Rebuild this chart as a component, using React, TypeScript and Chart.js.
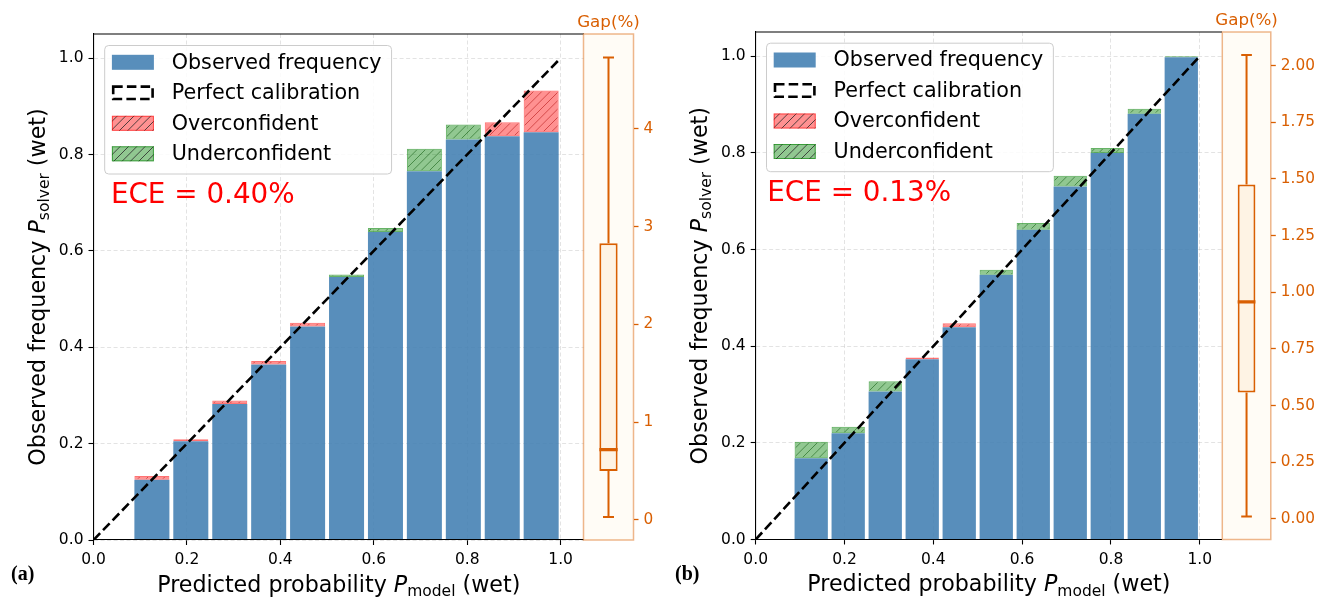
import React, { useEffect, useRef } from "react";
import { Chart, registerables } from "chart.js";

Chart.register(...registerables);

const FONT = "'DejaVu Sans', 'Noto Sans', sans-serif";

// ---------------- data ----------------
const binCenters = [0.0417, 0.125, 0.2083, 0.2917, 0.375, 0.4583, 0.5417, 0.625, 0.7083, 0.7917, 0.875, 0.9583];
const observedA = [0, 0.125, 0.205, 0.282, 0.364, 0.443, 0.5455, 0.639, 0.765, 0.831, 0.838, 0.846];
const gapA = [-0.001, 0.008, 0.004, 0.0076, 0.0077, 0.0077, -0.0055, -0.0084, -0.047, -0.031, 0.029, 0.0865];
const observedB = [0, 0.168, 0.22, 0.306, 0.373, 0.439, 0.5476, 0.6408, 0.7305, 0.7996, 0.881, 0.998];
const gapB = [-0.001, -0.0345, -0.0135, -0.0215, 0.0035, 0.0085, -0.0104, -0.0138, -0.022, -0.0104, -0.0104, -0.002];
// whisker low, Q1, median, Q3, whisker high (Gap %)
const gapBoxA = [0.03, 0.5, 0.72, 2.83, 4.73];
const gapBoxB = [0.011, 0.557, 0.957, 1.475, 2.046];
const calibration = [0, 1];

const mainTicks = [0, 0.2, 0.4, 0.6, 0.8, 1.0];
const mainTickLabels = ["0.0", "0.2", "0.4", "0.6", "0.8", "1.0"];
const gapTicksA = [0, 1, 2, 3, 4];
const gapTickLabelsA = ["0", "1", "2", "3", "4"];
const gapTicksB = [0, 0.25, 0.5, 0.75, 1.0, 1.25, 1.5, 1.75, 2.0];
const gapTickLabelsB = ["0.00", "0.25", "0.50", "0.75", "1.00", "1.25", "1.50", "1.75", "2.00"];

const legendLabels = ["Observed frequency", "Perfect calibration", "Overconfident", "Underconfident"];
const eceLabels = ["ECE = 0.40%", "ECE = 0.13%"];
const panelLabels = ["(a)", "(b)"];
const xTitleWords = ["Predicted probability ", "P", "model", " (wet)"];
const yTitleWords = ["Observed frequency ", "P", "solver", " (wet)"];
const gapTitle = "Gap(%)";

// ---------------- styles ----------------
const BLUE = "rgba(70,130,180,0.9)";
const RED_FILL = "rgba(255,0,0,0.43)";
const RED_EDGE = "rgba(255,0,0,0.55)";
const RED_HATCH = "rgba(170,0,0,0.5)";
const GREEN_FILL = "rgba(0,128,0,0.43)";
const GREEN_EDGE = "rgba(0,128,0,0.6)";
const GREEN_HATCH = "rgba(0,80,0,0.5)";
const GRID = "rgba(176,176,176,0.35)";
const ORANGE = "#d95f02";
const ORANGE_LIGHT = "rgba(217,95,2,0.45)";
const PANEL_FACE = "#fffcf6";
const BOX_FILL = "#fef3e4";
const BOX_HALF = 0.183;
const CAP_HALF = 0.11;

function makeHatch(fill: string, line: string, lw: number) {
  const S = 25;
  const c = document.createElement("canvas");
  c.width = S;
  c.height = S;
  const g = c.getContext("2d")!;
  g.fillStyle = fill;
  g.fillRect(0, 0, S, S);
  g.strokeStyle = line;
  g.lineWidth = lw;
  g.beginPath();
  for (let k = 0; k <= 6; k++) {
    const cc = (k * S) / 3;
    g.moveTo(cc + 2, -2);
    g.lineTo(cc - S - 2, S + 2);
  }
  g.stroke();
  return g.createPattern(c, "repeat")!;
}

function roundRectPath(ctx: CanvasRenderingContext2D, x: number, y: number, w: number, h: number, r: number) {
  ctx.beginPath();
  ctx.moveTo(x + r, y);
  ctx.lineTo(x + w - r, y);
  ctx.arcTo(x + w, y, x + w, y + r, r);
  ctx.lineTo(x + w, y + h - r);
  ctx.arcTo(x + w, y + h, x + w - r, y + h, r);
  ctx.lineTo(x + r, y + h);
  ctx.arcTo(x, y + h, x, y + h - r, r);
  ctx.lineTo(x, y + r);
  ctx.arcTo(x, y, x + r, y, r);
  ctx.closePath();
}

function richText(ctx: CanvasRenderingContext2D, words: string[], cx: number, cy: number, angle: number) {
  const parts = [
    { t: words[0], f: `22.2px ${FONT}`, dy: 0 },
    { t: words[1], f: `italic 22.2px ${FONT}`, dy: 0 },
    { t: words[2], f: `15.5px ${FONT}`, dy: 4.6 },
    { t: words[3], f: `22.2px ${FONT}`, dy: 0 },
  ];
  ctx.save();
  ctx.translate(cx, cy);
  ctx.rotate(angle);
  let total = 0;
  const ws = parts.map((p) => {
    ctx.font = p.f;
    const w = ctx.measureText(p.t).width;
    total += w;
    return w;
  });
  let x = -total / 2;
  ctx.textAlign = "left";
  ctx.textBaseline = "alphabetic";
  ctx.fillStyle = "#000";
  parts.forEach((p, i) => {
    ctx.font = p.f;
    ctx.fillText(p.t, x, p.dy);
    x += ws[i];
  });
  ctx.restore();
}

function drawLegend(ctx: CanvasRenderingContext2D, x: number, y: number, pats: any) {
  const fs = 20.7;
  ctx.save();
  ctx.font = `${fs}px ${FONT}`;
  const textDx = 67.5;
  const maxW = Math.max(...legendLabels.map((t) => ctx.measureText(t).width));
  const w = textDx + maxW + 9.5;
  const h = 128.5;
  roundRectPath(ctx, x + 0.5, y + 0.5, w, h, 4);
  ctx.fillStyle = "rgba(255,255,255,0.85)";
  ctx.fill();
  ctx.strokeStyle = "#cccccc";
  ctx.lineWidth = 1;
  ctx.stroke();
  legendLabels.forEach((label, i) => {
    const rowY = y + 17.3 + i * 30.5;
    const sx = x + 7.7;
    const sy = rowY - 7.5;
    const sw = 42;
    const sh = 15;
    if (i === 0) {
      ctx.fillStyle = BLUE;
      ctx.fillRect(sx, sy, sw, sh);
    } else if (i === 1) {
      ctx.save();
      ctx.setLineDash([9.5, 4.2]);
      ctx.strokeStyle = "#000";
      ctx.lineWidth = 2.6;
      ctx.strokeRect(sx + 1.3, sy + 1.3, sw - 2.6, sh - 2.6);
      ctx.restore();
    } else {
      ctx.fillStyle = i === 2 ? pats.redLegend : pats.greenLegend;
      ctx.fillRect(sx, sy, sw, sh);
      ctx.strokeStyle = i === 2 ? RED_EDGE : GREEN_EDGE;
      ctx.lineWidth = 1;
      ctx.strokeRect(sx + 0.5, sy + 0.5, sw - 1, sh - 1);
    }
    ctx.fillStyle = "#000";
    ctx.font = `${fs}px ${FONT}`;
    ctx.textAlign = "left";
    ctx.textBaseline = "middle";
    ctx.fillText(label, x + textDx, rowY + 1);
  });
  ctx.restore();
}

type Panel = {
  key: string;
  obs: number[];
  gap: number[];
  box: number[];
  gapTicks: number[];
  gapTickLabels: string[];
  gapMin: number;
  gapMax: number;
  ece: string;
  label: string;
  mainLeft: number;
  mainWidth: number;
  yAxisW: number;
  top: number;
  xAxisH: number;
  boxLeft: number;
  boxWidth: number;
  boxPadL: number;
  boxAreaW: number;
  eceDx: number;
  eceY: number;
  legendDx: number;
  legendTop: number;
  labelX: number;
};

const panels: Panel[] = [
  {
    key: "a", obs: observedA, gap: gapA, box: gapBoxA,
    gapTicks: gapTicksA, gapTickLabels: gapTickLabelsA, gapMin: -0.205, gapMax: 4.97,
    ece: eceLabels[0], label: panelLabels[0],
    mainLeft: 0, mainWidth: 584, yAxisW: 93.5, top: 34, xAxisH: 59,
    boxLeft: 553, boxWidth: 130, boxPadL: 30.5, boxAreaW: 50,
    eceDx: 17.4, eceY: 203, legendDx: 10.7, legendTop: 45, labelX: 11,
  },
  {
    key: "b", obs: observedB, gap: gapB, box: gapBoxB,
    gapTicks: gapTicksB, gapTickLabels: gapTickLabelsB, gapMin: -0.091, gapMax: 2.148,
    ece: eceLabels[1], label: panelLabels[1],
    mainLeft: 660, mainWidth: 562, yAxisW: 95.7, top: 32, xAxisH: 59.5,
    boxLeft: 1192, boxWidth: 127, boxPadL: 30.3, boxAreaW: 48.5,
    eceDx: 11.6, eceY: 201, legendDx: 10.3, legendTop: 42.7, labelX: 15,
  },
];

function mainConfig(p: Panel): any {
  const pats = {
    red: makeHatch(RED_FILL, RED_HATCH, 1),
    green: makeHatch(GREEN_FILL, GREEN_HATCH, 1),
    redLegend: makeHatch(RED_FILL, "rgba(40,40,40,0.8)", 1),
    greenLegend: makeHatch(GREEN_FILL, "rgba(40,40,40,0.8)", 1),
  };
  const over: any[] = [];
  const under: any[] = [];
  binCenters.forEach((c, i) => {
    const g = p.gap[i];
    const seg = { x: c, y: [p.obs[i], p.obs[i] + Math.abs(g)] };
    (g > 0 ? over : under).push(seg);
  });
  const decor = {
    id: "decor" + p.key,
    afterDraw(chart: any) {
      const ctx: CanvasRenderingContext2D = chart.ctx;
      const a = chart.chartArea;
      ctx.save();
      ctx.strokeStyle = "#000";
      ctx.lineWidth = 1.1;
      ctx.beginPath();
      ctx.moveTo(a.left, a.top);
      ctx.lineTo(a.right, a.top);
      ctx.stroke();
      drawLegend(ctx, a.left + p.legendDx, p.legendTop, pats);
      ctx.fillStyle = "#ff0000";
      ctx.font = `27.8px ${FONT}`;
      ctx.textAlign = "left";
      ctx.textBaseline = "alphabetic";
      ctx.fillText(p.ece, a.left + p.eceDx, p.eceY);
      richText(ctx, xTitleWords, (a.left + a.right) / 2, a.bottom + 51.5, 0);
      richText(ctx, yTitleWords, a.left - 49, (a.top + a.bottom) / 2, -Math.PI / 2);
      ctx.fillStyle = "#000";
      ctx.font = `bold 20px 'Liberation Serif', serif`;
      ctx.textAlign = "left";
      ctx.textBaseline = "alphabetic";
      ctx.fillText(p.label, p.labelX, 580);
      ctx.restore();
    },
  };
  const tickFont = { family: FONT, size: 15.5 };
  return {
    type: "bar",
    data: {
      datasets: [
        {
          type: "line",
          label: legendLabels[1],
          data: calibration.map((v) => ({ x: v, y: v })),
          borderColor: "#000",
          borderWidth: 2.6,
          borderDash: [9.5, 4.2],
          pointRadius: 0,
          fill: false,
          order: 0,
        },
        {
          label: legendLabels[2],
          data: over,
          backgroundColor: pats.red,
          borderColor: RED_EDGE,
          borderWidth: 1,
          borderSkipped: false,
          grouped: false,
          barPercentage: 0.9,
          categoryPercentage: 1,
          order: 1,
        },
        {
          label: legendLabels[3],
          data: under,
          backgroundColor: pats.green,
          borderColor: GREEN_EDGE,
          borderWidth: 1,
          borderSkipped: false,
          grouped: false,
          barPercentage: 0.9,
          categoryPercentage: 1,
          order: 1,
        },
        {
          label: legendLabels[0],
          data: binCenters.map((c, i) => ({ x: c, y: p.obs[i] })),
          backgroundColor: BLUE,
          borderWidth: 0,
          grouped: false,
          barPercentage: 0.9,
          categoryPercentage: 1,
          order: 2,
        },
      ],
    },
    options: {
      responsive: false,
      animation: false,
      events: [],
      layout: { padding: { top: p.top, left: 0, right: 0, bottom: 0 } },
      plugins: { legend: { display: false }, tooltip: { enabled: false }, title: { display: false } },
      scales: {
        x: {
          type: "linear",
          min: 0,
          max: 1.05,
          offset: false,
          afterBuildTicks: (s: any) => {
            s.ticks = mainTicks.map((v) => ({ value: v }));
          },
          afterFit: (s: any) => {
            s.height = p.xAxisH;
          },
          ticks: {
            autoSkip: false,
            maxRotation: 0,
            padding: 6,
            color: "#000",
            font: tickFont,
            callback: (_v: any, i: number) => mainTickLabels[i],
          },
          grid: { color: GRID, lineWidth: 1, offset: false, drawTicks: true, tickLength: 5, tickColor: "#000", tickWidth: 1.1 },
          border: { display: true, color: "#000", width: 1.1, dash: [4, 2.5], z: 1 },
        },
        y: {
          type: "linear",
          min: 0,
          max: 1.05,
          afterBuildTicks: (s: any) => {
            s.ticks = mainTicks.map((v) => ({ value: v }));
          },
          afterFit: (s: any) => {
            s.width = p.yAxisW;
          },
          ticks: {
            autoSkip: false,
            padding: 5,
            color: "#000",
            font: tickFont,
            callback: (_v: any, i: number) => mainTickLabels[i],
          },
          grid: { color: GRID, lineWidth: 1, drawTicks: true, tickLength: 5, tickColor: "#000", tickWidth: 1.1 },
          border: { display: true, color: "#000", width: 1.1, dash: [4, 2.5], z: 1 },
        },
      },
    },
    plugins: [decor],
  };
}

function boxConfig(p: Panel): any {
  const [lo, q1, med, q3, hi] = p.box;
  const lineDs = (pts: number[][], width: number) => ({
    type: "line",
    data: pts.map(([x, y]) => ({ x, y })),
    borderColor: ORANGE,
    borderWidth: width,
    pointRadius: 0,
    fill: false,
    order: 0,
  });
  const decor = {
    id: "boxdecor" + p.key,
    beforeDraw(chart: any) {
      const ctx: CanvasRenderingContext2D = chart.ctx;
      const a = chart.chartArea;
      ctx.save();
      ctx.fillStyle = PANEL_FACE;
      ctx.fillRect(a.left, a.top, a.right - a.left, a.bottom - a.top);
      ctx.restore();
    },
    afterDraw(chart: any) {
      const ctx: CanvasRenderingContext2D = chart.ctx;
      const a = chart.chartArea;
      ctx.save();
      ctx.strokeStyle = ORANGE_LIGHT;
      ctx.lineWidth = 1.5;
      ctx.strokeRect(a.left, a.top, a.right - a.left, a.bottom - a.top);
      ctx.fillStyle = ORANGE;
      ctx.font = `16.7px ${FONT}`;
      ctx.textAlign = "center";
      ctx.textBaseline = "alphabetic";
      ctx.fillText(gapTitle, (a.left + a.right) / 2, a.top - 7);
      ctx.restore();
    },
  };
  return {
    type: "bar",
    data: {
      datasets: [
        lineDs([[0, q3], [0, hi]], 2),
        lineDs([[0, lo], [0, q1]], 2),
        lineDs([[-CAP_HALF, hi], [CAP_HALF, hi]], 2),
        lineDs([[-CAP_HALF, lo], [CAP_HALF, lo]], 2),
        lineDs([[-BOX_HALF, med], [BOX_HALF, med]], 3.2),
        {
          type: "bar",
          data: [{ x: 0, y: [q1, q3] }],
          backgroundColor: BOX_FILL,
          borderColor: ORANGE,
          borderWidth: 2,
          borderSkipped: false,
          grouped: false,
          barPercentage: BOX_HALF * 2,
          categoryPercentage: 1,
          order: 5,
        },
      ],
    },
    options: {
      responsive: false,
      animation: false,
      events: [],
      layout: { padding: { top: p.top, left: p.boxPadL, right: 0, bottom: 0 } },
      plugins: { legend: { display: false }, tooltip: { enabled: false } },
      scales: {
        x: {
          type: "linear",
          min: -0.5,
          max: 0.5,
          offset: false,
          afterBuildTicks: (s: any) => {
            s.ticks = [{ value: -0.5 }, { value: 0.5 }];
          },
          afterFit: (s: any) => {
            s.height = p.xAxisH;
          },
          ticks: { display: false },
          grid: { display: false },
          border: { display: false },
        },
        y: {
          type: "linear",
          position: "right",
          min: p.gapMin,
          max: p.gapMax,
          afterBuildTicks: (s: any) => {
            s.ticks = p.gapTicks.map((v) => ({ value: v }));
          },
          afterFit: (s: any) => {
            s.width = p.boxWidth - p.boxPadL - p.boxAreaW;
          },
          ticks: {
            autoSkip: false,
            padding: 5,
            color: ORANGE,
            font: { family: FONT, size: 15.3 },
            callback: (_v: any, i: number) => p.gapTickLabels[i],
          },
          grid: { drawOnChartArea: false, drawTicks: true, tickLength: 5, tickColor: ORANGE, tickWidth: 1.3 },
          border: { display: false },
        },
      },
    },
    plugins: [decor],
  };
}

function PanelView({ p }: { p: Panel }) {
  const mainRef = useRef<HTMLCanvasElement>(null);
  const boxRef = useRef<HTMLCanvasElement>(null);
  useEffect(() => {
    const main = new Chart(mainRef.current as HTMLCanvasElement, mainConfig(p));
    const box = new Chart(boxRef.current as HTMLCanvasElement, boxConfig(p));
    return () => {
      main.destroy();
      box.destroy();
    };
  }, [p]);
  return (
    <>
      <canvas
        ref={mainRef}
        width={p.mainWidth}
        height={599}
        style={{ position: "absolute", left: p.mainLeft, top: 0, width: p.mainWidth, height: 599 }}
      />
      <canvas
        ref={boxRef}
        width={p.boxWidth}
        height={599}
        style={{ position: "absolute", left: p.boxLeft, top: 0, width: p.boxWidth, height: 599 }}
      />
    </>
  );
}

export default function App() {
  return (
    <div
      style={{
        position: "absolute",
        left: 0,
        top: 0,
        width: 1319,
        height: 599,
        background: "#ffffff",
        overflow: "hidden",
      }}
    >
      {panels.map((p) => (
        <PanelView key={p.key} p={p} />
      ))}
    </div>
  );
}
